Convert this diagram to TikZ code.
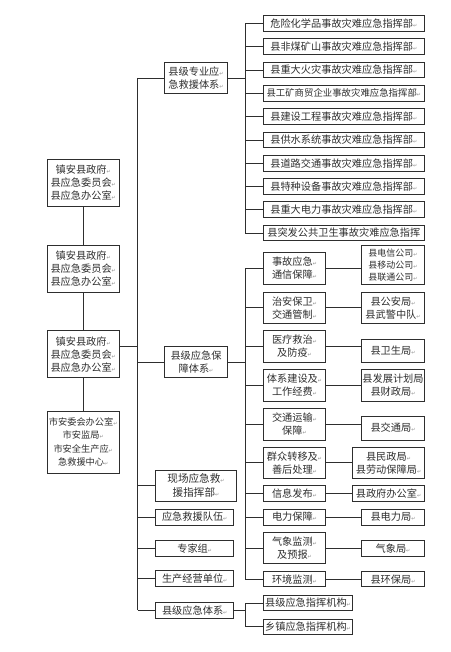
\documentclass[tikz,border=0pt]{standalone}
\usepackage{fontspec}
\setmainfont{Noto Sans CJK SC}
\newfontfamily\symfont{DejaVu Sans}
\usetikzlibrary{positioning}
% paragraph mark shown after each line
\newcommand{\ret}{{\symfont\fontsize{5}{5}\selectfont\textcolor{black!45}{↵}}}

\begin{document}
\begin{tikzpicture}[
    x=1pt, y=-1pt,
    font=\fontsize{10.2}{13}\selectfont,
    line width=0.9pt, color=black!82,
    box/.style={draw, align=center, inner sep=0pt},
    cmdbox/.style={box, minimum width=161pt, minimum height=15.5pt},
    govbox/.style={box, minimum width=71.7pt, minimum height=47pt},
    sysbox/.style={box, minimum width=63.5pt, minimum height=31.5pt},
    supbox/.style={box, minimum width=62.4pt, minimum height=31.5pt},
    depbox/.style={box, minimum width=62.6pt, minimum height=16pt},
    widebox/.style={box, minimum width=71.6pt, minimum height=16pt},
    lowbox/.style={box, minimum width=78pt, minimum height=16pt},
    lvlbox/.style={box, minimum width=89.4pt, minimum height=15.5pt},
  ]
  \useasboundingbox (0,0) rectangle (450,652);

  % --- Left column ---------------------------------------------------------
  \node[govbox] (gov1) at (83.2,183) {镇安县政府\ret\\县应急委员会\ret\\县应急办公室\ret};
  \node[govbox] (gov2) at (83.2,269) {镇安县政府\ret\\县应急委员会\ret\\县应急办公室\ret};
  \node[govbox] (gov3) at (83.2,354.2) {镇安县政府\ret\\县应急委员会\ret\\县应急办公室\ret};
  \node[govbox, minimum height=62.3pt, font=\fontsize{9.2}{13.5}\selectfont] (city) at (83.2,442.2)
    {市安委会办公室\ret\\市安监局\ret\\市安全生产应\ret\\急救援中心\ret};

  % --- County systems ------------------------------------------------------
  \node[sysbox] (spec) at (196,78) {县级专业应\ret\\急救援体系\ret};
  \node[sysbox] (supp) at (196,362) {县级应急保\\障体系\ret};
  \node[box, minimum width=80.6pt, minimum height=31.7pt, font=\fontsize{10.6}{14}\selectfont] (site) at (196,485.8)
    {现场应急救\ret\\援指挥部\ret};
  \node[lowbox] (team)   at (194.7,517)   {应急救援队伍\ret};
  \node[lowbox] (expert) at (194.7,548.3) {专家组\ret};
  \node[lowbox] (unit)   at (194.7,578.8) {生产经营单位\ret};
  \node[lowbox] (cnty)   at (194.7,610.3) {县级应急体系\ret};

  % --- Special command headquarters ----------------------------------------
  \node[cmdbox] (cmd1)  at (343.8,23.7)  {危险化学品事故灾难应急指挥部\ret};
  \node[cmdbox] (cmd2)  at (343.8,46.7)  {县非煤矿山事故灾难应急指挥部\ret};
  \node[cmdbox] (cmd3)  at (343.8,70)    {县重大火灾事故灾难应急指挥部\ret};
  \node[cmdbox, font=\fontsize{9.4}{12}\selectfont] (cmd4) at (343.8,93.3) {县工矿商贸企业事故灾难应急指挥部\ret};
  \node[cmdbox] (cmd5)  at (343.8,116.7) {县建设工程事故灾难应急指挥部\ret};
  \node[cmdbox] (cmd6)  at (343.8,140)   {县供水系统事故灾难应急指挥部\ret};
  \node[cmdbox] (cmd7)  at (343.8,163.3) {县道路交通事故灾难应急指挥部\ret};
  \node[cmdbox] (cmd8)  at (343.8,186.7) {县特种设备事故灾难应急指挥部\ret};
  \node[cmdbox] (cmd9)  at (343.8,209.5) {县重大电力事故灾难应急指挥部\ret};
  \node[cmdbox] (cmd10) at (343.8,233)   {县突发公共卫生事故灾难应急指挥};

  % --- Support tasks -------------------------------------------------------
  \node[supbox] (sup1)  at (294.5,268.5) {事故应急\ret\\通信保障\ret};
  \node[supbox] (sup2)  at (294.5,307.8) {治安保卫\ret\\交通管制\ret};
  \node[supbox] (sup3)  at (294.5,346.5) {医疗救治\ret\\及防疫\ret};
  \node[supbox] (sup4)  at (294.5,385.2) {体系建设及\ret\\工作经费\ret};
  \node[supbox] (sup5)  at (294.5,424.2) {交通运输\ret\\保障\ret};
  \node[supbox] (sup6)  at (294.5,462.8) {群众转移及\ret\\善后处理\ret};
  \node[supbox, minimum height=16pt] (sup7)  at (294.5,493.7) {信息发布\ret};
  \node[supbox, minimum height=16pt] (sup8)  at (294.5,517)   {电力保障\ret};
  \node[supbox, minimum height=30.6pt] (sup9) at (294.5,548) {气象监测\ret\\及预报\ret};
  \node[supbox, minimum height=15pt] (sup10) at (294.5,579.2) {环境监测\ret};

  % --- Responsible departments ---------------------------------------------
  \node[depbox, minimum height=38.6pt, font=\fontsize{9}{11.8}\selectfont] (dep1) at (393,265)
    {县电信公司\ret\\县移动公司\ret\\县联通公司\ret};
  \node[depbox, minimum height=31pt] (dep2) at (393,307.8) {县公安局\ret\\县武警中队\ret};
  \node[depbox, minimum height=23.3pt] (dep3) at (393,350.7) {县卫生局\ret};
  \node[depbox, minimum height=31.7pt] (dep4) at (393,385.2) {县发展计划局\\县财政局\ret};
  \node[depbox, minimum height=24pt] (dep5) at (393,428) {县交通局\ret};
  \node[widebox, minimum height=31pt] (dep6) at (388.5,462.8) {县民政局\ret\\县劳动保障局\ret};
  \node[widebox] (dep7) at (388.5,493.7) {县政府办公室\ret};
  \node[depbox] (dep8) at (393,517) {县电力局\ret};
  \node[depbox, minimum height=15.3pt] (dep9) at (393,548.3) {气象局\ret};
  \node[depbox, minimum height=15pt] (dep10) at (393,579.2) {县环保局\ret};

  % --- County / township level ---------------------------------------------
  \node[lvlbox] (lvl1) at (308,603)   {县级应急指挥机构\ret};
  \node[lvlbox, minimum height=15pt] (lvl2) at (308,626.5) {乡镇应急指挥机构\ret};

  % --- Buses ---------------------------------------------------------------
  \coordinate (lbus) at (137.7,78);
  \coordinate (lend) at (137.7,610.3);
  \coordinate (tbus) at (245,78);
  \coordinate (mbus) at (245,362);
  \coordinate (bbus) at (245,610.3);

  % --- Connectors ----------------------------------------------------------
  \draw (gov1) -- (gov2);
  \draw (gov2) -- (gov3);
  \draw (gov3) -- (city);
  \draw ([yshift=8.2pt]gov3.east) -- ([yshift=8.2pt]gov3.east -| lbus);
  \draw (lbus) -- (lend);
  \foreach \n in {spec, supp, site, team, expert, unit, cnty}
    \draw (lbus |- \n) -- (\n.west);

  \draw (spec.east) -- (tbus);
  \draw (tbus |- cmd1) -- (tbus |- cmd10);
  \foreach \i in {1,...,10}
    \draw (tbus |- cmd\i) -- (cmd\i.west);

  \draw (supp.east) -- (mbus);
  \draw (mbus |- sup1) -- (mbus |- sup10);
  \foreach \i in {1,...,10} {
    \draw (mbus |- sup\i) -- (sup\i.west);
    \draw (sup\i.east) -- (sup\i.east -| dep\i.west);
  }

  \draw (cnty.east) -- (bbus);
  \draw (bbus |- lvl1) -- (bbus |- lvl2);
  \foreach \n in {lvl1, lvl2}
    \draw (bbus |- \n) -- (\n.west);

\end{tikzpicture}
\end{document}
